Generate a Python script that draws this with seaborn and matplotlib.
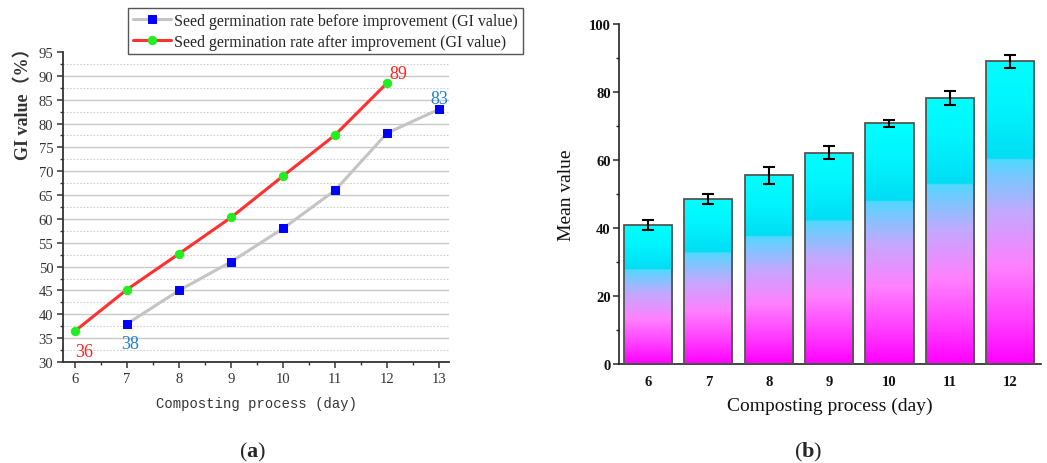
import matplotlib
matplotlib.use("Agg")
import matplotlib.pyplot as plt
import matplotlib.ticker as mticker
from matplotlib.colors import LinearSegmentedColormap
import numpy as np
import pandas as pd
import seaborn as sns

# ---------------- data ----------------
days_before = [7, 8, 9, 10, 11, 12, 13]
gi_before = [38, 45, 51, 58, 66, 78, 83]
days_after = [6, 7, 8, 9, 10, 11, 12]
gi_after = [36.5, 45.2, 52.7, 60.3, 69.0, 77.6, 88.5]
label_before = "Seed germination rate before improvement (GI value)"
label_after = "Seed germination rate after improvement (GI value)"

bar_days = ["6", "7", "8", "9", "10", "11", "12"]
bar_means = [41.0, 48.5, 55.5, 62.2, 70.8, 78.2, 89.0]
bar_err = [1.5, 1.5, 2.5, 2.0, 1.0, 2.0, 2.0]

sns.set_theme(style="ticks")
plt.rcParams["font.family"] = ["Liberation Serif", "Noto Sans CJK SC", "DejaVu Sans"]
plt.rcParams["mathtext.fontset"] = "custom"
plt.rcParams["mathtext.rm"] = "Liberation Serif"
plt.rcParams["mathtext.bf"] = "Liberation Serif:bold"

fig = plt.figure(figsize=(10.47, 4.64), dpi=100)
W, H = 1047, 464

# ---------------- panel (a) ----------------
ax1 = fig.add_axes([63 / W, 1 - 363 / H, 386 / W, 310 / H])
df_b = pd.DataFrame({"day": days_before, "gi": gi_before})
df_a = pd.DataFrame({"day": days_after, "gi": gi_after})
sns.lineplot(data=df_b, x="day", y="gi", ax=ax1, color="#C4C4C4", lw=2.2,
             marker="s", markersize=5.5, markerfacecolor="#0000FF",
             markeredgecolor="#0000FF", label=label_before, zorder=3)
sns.lineplot(data=df_a, x="day", y="gi", ax=ax1, color="#FF3030", lw=2.2,
             marker="o", markersize=6, markerfacecolor="#22EE22",
             markeredgecolor="#22EE22", label=label_after, zorder=4)

ax1.set_xlim(5.77, 13.19)
ax1.set_ylim(30, 95)
ax1.xaxis.set_major_locator(mticker.MultipleLocator(1))
ax1.xaxis.set_minor_locator(mticker.MultipleLocator(0.5))
ax1.yaxis.set_major_locator(mticker.MultipleLocator(5))
ax1.yaxis.set_minor_locator(mticker.MultipleLocator(2.5))
for y in np.arange(35, 91, 5):
    ax1.axhline(y, color="#C8C8C8", lw=1.0, zorder=1)
for y in np.arange(32.5, 93, 5):
    ax1.axhline(y, color="#D0D0D0", lw=0.8, ls=(0, (1.5, 1.5)), zorder=1)
for s in ["top", "right"]:
    ax1.spines[s].set_visible(False)
for s in ["left", "bottom"]:
    ax1.spines[s].set_color("#333333")
    ax1.spines[s].set_linewidth(1.3)
ax1.tick_params(axis="both", which="major", length=4, width=1.1, color="#333333",
                labelsize=10.5, labelcolor="#333333", pad=3)
ax1.tick_params(axis="both", which="minor", length=2.5, width=1.0, color="#333333")
ax1.set_xlabel("Composting process (day)", family="Liberation Mono",
               fontsize=10, color="#333333", labelpad=8)
ax1.set_ylabel("GI value（%）", fontsize=13, fontweight="bold", color="#333333")
ax1.yaxis.set_label_coords(-0.08, 0.85)

ax1.text(6.0, 34.0, "36", color="#FF2020", fontsize=13, ha="left", va="top")
ax1.text(6.88, 35.6, "38", color="#2080D0", fontsize=13, ha="left", va="top")
ax1.text(12.05, 88.8, "89", color="#FF2020", fontsize=13, ha="left", va="bottom")
ax1.text(13.0, 83.4, "83", color="#2080D0", fontsize=13, ha="center", va="bottom")

leg = ax1.legend(loc="upper left", bbox_to_anchor=(128 / W, 1 - 9 / H),
                 bbox_transform=fig.transFigure, frameon=True, fancybox=False,
                 framealpha=1, edgecolor="#555555", fontsize=11.5,
                 handlelength=2.4, handletextpad=0.2, borderpad=0.3,
                 labelspacing=0.3, borderaxespad=0)
leg.get_frame().set_linewidth(1.0)

# ---------------- panel (b) ----------------
ax2 = fig.add_axes([619 / W, 1 - 365 / H, 422 / W, 340 / H])
df_bar = pd.DataFrame({"day": bar_days, "mean": bar_means})
sns.barplot(data=df_bar, x="day", y="mean", ax=ax2, width=0.8,
            color="white", edgecolor="#555555", linewidth=1.3, errorbar=None,
            zorder=2)

cmap = LinearSegmentedColormap.from_list("grad", [
    (0.00, "#FF00FF"),
    (0.15, "#FF40FF"),
    (0.32, "#FF80FF"),
    (0.50, "#C4A8FF"),
    (0.62, "#78C8FF"),
    (0.675, "#50D8FF"),
    (0.68, "#00DDF5"),
    (0.85, "#00F4FD"),
    (1.00, "#00FFFF"),
])
grad = np.linspace(0, 1, 256).reshape(-1, 1)
centers = []
for p in ax2.patches:
    x0, w = p.get_x(), p.get_width()
    h = p.get_height()
    centers.append(x0 + w / 2)
    im = ax2.imshow(grad, extent=[x0, x0 + w, 0, h], origin="lower",
                    aspect="auto", cmap=cmap, zorder=1.5, interpolation="bilinear")
    im.set_clip_path(p)
    p.set_facecolor("none")
    p.set_zorder(3)

ax2.errorbar(centers, bar_means, yerr=bar_err, fmt="none", ecolor="black",
             elinewidth=1.5, capsize=4, capthick=1.5, zorder=4)

ax2.set_xlim(-0.48, 6.51)
ax2.set_ylim(0, 100)
ax2.yaxis.set_major_locator(mticker.MultipleLocator(20))
ax2.yaxis.set_minor_locator(mticker.MultipleLocator(10))
for s in ["top", "right"]:
    ax2.spines[s].set_visible(False)
for s in ["left", "bottom"]:
    ax2.spines[s].set_color("#222222")
    ax2.spines[s].set_linewidth(1.2)
ax2.tick_params(axis="y", which="major", length=4, width=1.1, labelsize=10.5, pad=2)
ax2.tick_params(axis="y", which="minor", length=2.5, width=1.0)
ax2.tick_params(axis="x", which="major", length=0, labelsize=10.5, pad=8)
for t in ax2.get_xticklabels() + ax2.get_yticklabels():
    t.set_fontweight("bold")
    t.set_color("#111111")
ax2.set_xlabel("Composting process (day)", fontsize=14, color="#111111", labelpad=6)
ax2.set_ylabel("Mean value", fontsize=14, color="#111111", labelpad=10)

# ---------------- captions ----------------
fig.text(253 / W, 1 - 452 / H, r"($\mathbf{a}$)", ha="center", va="center", fontsize=16)
fig.text(808 / W, 1 - 452 / H, r"($\mathbf{b}$)", ha="center", va="center", fontsize=16)

fig.savefig("out.png", dpi=100)
